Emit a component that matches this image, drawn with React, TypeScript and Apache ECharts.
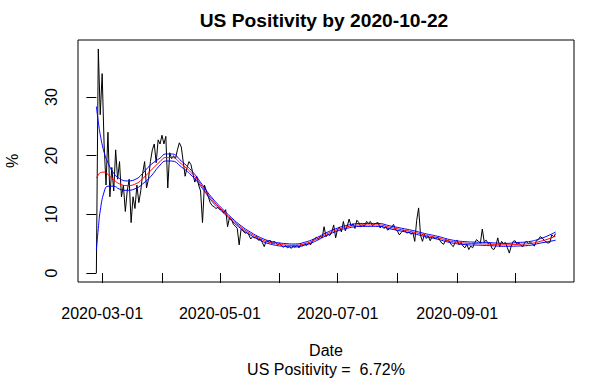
import React, { useEffect, useRef } from "react";
import * as echarts from "echarts";

// Daily series starts on this date (day index 0)
const startDate = "2020-02-27";

// Daily US test positivity (%)
const positivity: number[] = [
  0, 38.2, 27, 34, 22, 15, 24, 13, 18, 14,
  21, 16, 19, 13, 15, 10.5, 14, 16, 8.6, 13,
  11, 15, 12, 14, 17, 19, 14.5, 16, 19, 21,
  22, 18.8, 22.7, 22, 23.5, 22, 23.3, 14.5, 20.5, 19.5,
  20, 19.5, 21, 22.2, 21.5, 19, 16.5, 18, 19, 18.5,
  17, 15.5, 16.5, 15, 14, 8.6, 15, 14, 13, 12,
  11.5, 11.3, 11, 11.2, 10.8, 10.8, 10.2, 10.8, 7.9, 9.5,
  9.2, 8.3, 8.0, 7.6, 4.8, 7.5, 7.2, 6.8, 6.9, 6.5,
  5.8, 6.2, 6.0, 6.3, 5.6, 5.8, 5.2, 4.5, 5.5, 5.3,
  5.6, 5.0, 5.4, 5.2, 4.8, 5.1, 4.6, 4.4, 4.7, 4.3,
  4.5, 4.2, 4.6, 4.4, 4.8, 4.3, 4.9, 4.6, 5.0, 4.7,
  5.2, 4.8, 5.5, 5.8, 6.1, 5.7, 6.3, 6.0, 7.9, 6.2,
  6.6, 6.4, 7.0, 8.2, 6.0, 7.5, 7.8, 7.0, 8.8, 7.2,
  8.0, 9.2, 8.0, 8.4, 7.6, 9.0, 8.6, 7.9, 8.2, 8.0,
  8.8, 8.5, 8.8, 8.1, 8.3, 8.5, 8.6, 7.7, 8.0, 7.6,
  7.9, 7.3, 7.6, 7.8, 8.3, 7.4, 7.2, 6.5, 6.9, 7.3,
  7.1, 6.8, 7.0, 6.6, 6.9, 5.4, 9.0, 11.1, 6.4, 5.4,
  6.6, 5.9, 6.3, 5.5, 6.2, 6.0, 5.9, 6.1, 5.6, 5.1,
  4.9, 5.7, 5.5, 5.4, 4.8, 4.5, 5.3, 5.6, 4.8, 5.2,
  4.6, 4.3, 4.9, 4.0, 4.6, 4.3, 5.1, 5.7, 5.4, 5.1,
  7.5, 5.3, 5.6, 5.0, 5.2, 4.2, 4.0, 4.6, 6.0, 4.5,
  5.4, 5.0, 5.2, 4.3, 3.4, 4.6, 5.4, 5.5, 4.9, 5.1,
  4.7, 4.5, 5.2, 5.4, 5.0, 5.3, 4.9, 4.6, 5.5, 5.7,
  6.2, 6.0, 5.6, 5.3, 5.1, 5.2, 6.5, 6.2, 6.72,
];

// Smoothed fit and its band, sampled at these day indices
const fitDays: number[] = [
  0, 1, 2, 4, 6, 9, 12, 16, 21, 24, 28, 33, 36, 39, 44, 50, 55, 60, 65, 70,
  75, 80, 85, 90, 97, 103, 108, 113, 119, 124, 130, 138, 146, 152, 158, 164,
  170, 177, 184, 191, 198, 205, 212, 218, 224, 230, 235, 238,
];
const fitValues: number[] = [
  16.2, 16.7, 17.1, 17.2, 16.8, 15.9, 15.2, 14.9, 15.3, 16.1, 17.4, 19.0, 19.7, 19.7, 18.6, 16.8, 14.7, 12.5, 10.8, 9.2,
  7.8, 6.7, 5.8, 5.2, 4.8, 4.7, 5.0, 5.6, 6.6, 7.3, 7.9, 8.2, 8.2, 7.8, 7.4, 7.0,
  6.5, 6.0, 5.4, 5.1, 5.0, 4.9, 4.8, 4.9, 5.0, 5.4, 5.9, 6.3,
];
const upperValues: number[] = [
  28.4, 25.8, 23.6, 20.6, 18.8, 17.0, 16.1, 15.7, 16.1, 17.0, 18.4, 19.6, 20.3, 20.3, 19.1, 17.2, 15.0, 12.8, 11.05, 9.45,
  8.05, 6.95, 6.05, 5.45, 5.05, 4.95, 5.25, 5.85, 6.85, 7.55, 8.15, 8.45, 8.45, 8.05, 7.65, 7.25,
  6.75, 6.25, 5.65, 5.35, 5.25, 5.15, 5.05, 5.2, 5.35, 5.85, 6.5, 7.0,
];
const lowerValues: number[] = [
  4.0, 7.6, 10.6, 13.8, 14.8, 14.8, 14.3, 14.1, 14.5, 15.2, 16.4, 18.4, 19.1, 19.1, 18.1, 16.4, 14.4, 12.2, 10.55, 8.95,
  7.55, 6.45, 5.55, 4.95, 4.55, 4.45, 4.75, 5.35, 6.35, 7.05, 7.65, 7.95, 7.95, 7.55, 7.15, 6.75,
  6.25, 5.75, 5.15, 4.85, 4.75, 4.65, 4.55, 4.6, 4.7, 5.1, 5.4, 5.6,
];

// Axis ticks
const monthTicks: string[] = [
  "2020-03-01", "2020-04-01", "2020-05-01", "2020-06-01",
  "2020-07-01", "2020-08-01", "2020-09-01", "2020-10-01",
];
const monthLabels: string[] = ["2020-03-01", "2020-05-01", "2020-07-01", "2020-09-01"];
const yTicks: number[] = [0, 10, 20, 30];

const DAY = 86400000;
const t0 = Date.parse(startDate + "T00:00:00Z");
const dayIndex = (s: string) => Math.round((Date.parse(s + "T00:00:00Z") - t0) / DAY);
const dayToLabel = (d: number) => new Date(t0 + d * DAY).toISOString().slice(0, 10);

const FONT = "'Liberation Sans', Arial, sans-serif";

export default function App() {
  const ref = useRef<HTMLDivElement>(null);

  useEffect(() => {
    if (!ref.current) return;
    const chart = echarts.init(ref.current, undefined, { renderer: "svg" });

    const n = positivity.length;
    const xPad = (n - 1) * 0.04;
    const yMax = Math.max(...positivity);
    const yPad = yMax * 0.04;

    const pair = (vals: number[]) => fitDays.map((d, i) => [d, vals[i]]);

    chart.setOption({
      animation: false,
      backgroundColor: "#ffffff",
      textStyle: { fontFamily: FONT },
      title: [
        {
          text: "US Positivity by 2020-10-22",
          left: 324,
          textAlign: "center",
          top: 10,
          padding: 0,
          textStyle: { fontFamily: FONT, fontSize: 19.2, fontWeight: "bold", color: "#000", lineHeight: 20 },
        },
        {
          text: "US Positivity =  6.72%",
          left: 326,
          textAlign: "center",
          top: 361,
          padding: 0,
          textStyle: { fontFamily: FONT, fontSize: 16, fontWeight: "normal", color: "#000", lineHeight: 16 },
        },
      ],
      grid: {
        left: 78,
        top: 40,
        right: 41,
        bottom: 98,
        show: true,
        borderColor: "#000",
        borderWidth: 1,
        backgroundColor: "transparent",
        containLabel: false,
        outerBoundsMode: "none",
      },
      xAxis: {
        type: "value",
        min: -xPad,
        max: n - 1 + xPad,
        name: "Date",
        nameLocation: "middle",
        nameGap: 60,
        nameTextStyle: { fontFamily: FONT, fontSize: 16, color: "#000" },
        axisLine: { show: false },
        axisTick: {
          show: true,
          length: 10,
          lineStyle: { color: "#000", width: 1 },
          customValues: monthTicks.map(dayIndex),
        },
        axisLabel: {
          show: true,
          margin: 23,
          fontFamily: FONT,
          fontSize: 16,
          color: "#000",
          customValues: monthLabels.map(dayIndex),
          formatter: (v: number) => dayToLabel(v),
          showMinLabel: true,
          showMaxLabel: true,
          hideOverlap: false,
        },
        splitLine: { show: false },
      },
      yAxis: {
        type: "value",
        min: -yPad,
        max: yMax + yPad,
        name: "%",
        nameLocation: "middle",
        nameGap: 58,
        nameRotate: 90,
        nameTextStyle: { fontFamily: FONT, fontSize: 16, color: "#000" },
        axisLine: { show: false },
        axisTick: {
          show: true,
          length: 10,
          lineStyle: { color: "#000", width: 1 },
          customValues: yTicks,
        },
        axisLabel: {
          show: true,
          rotate: 90,
          margin: 19,
          fontFamily: FONT,
          fontSize: 16,
          color: "#000",
          customValues: yTicks,
          formatter: (v: number) => String(v),
        },
        splitLine: { show: false },
      },
      series: [
        {
          name: "daily",
          type: "line",
          data: positivity.map((v, i) => [i, v]),
          showSymbol: false,
          symbol: "none",
          lineStyle: { color: "#000000", width: 1 },
          itemStyle: { color: "#000000" },
          z: 2,
        },
        {
          name: "fit",
          type: "line",
          data: pair(fitValues),
          smooth: true,
          showSymbol: false,
          symbol: "none",
          lineStyle: { color: "#ff0000", width: 1 },
          itemStyle: { color: "#ff0000" },
          z: 3,
        },
        {
          name: "upper",
          type: "line",
          data: pair(upperValues),
          smooth: true,
          showSymbol: false,
          symbol: "none",
          lineStyle: { color: "#0000ff", width: 1 },
          itemStyle: { color: "#0000ff" },
          z: 4,
        },
        {
          name: "lower",
          type: "line",
          data: pair(lowerValues),
          smooth: true,
          showSymbol: false,
          symbol: "none",
          lineStyle: { color: "#0000ff", width: 1 },
          itemStyle: { color: "#0000ff" },
          z: 4,
        },
      ],
    });

    return () => chart.dispose();
  }, []);

  return (
    <div
      ref={ref}
      style={{ position: "fixed", left: 0, top: 0, width: 615, height: 380, background: "#fff" }}
    />
  );
}
